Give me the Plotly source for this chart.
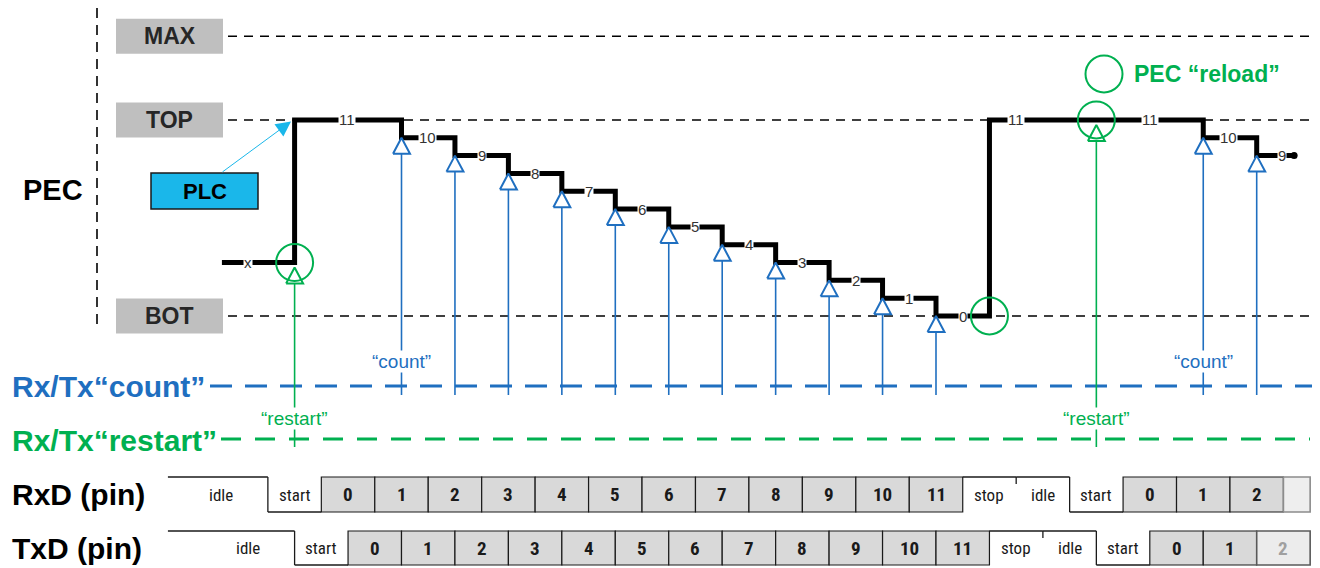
import plotly.graph_objects as go

# ---------------- data ----------------
# PEC counter staircase: time in bit periods, value in counts
pec_times = [-1.36, 0, 2, 3, 4, 5, 6, 7, 8, 9, 10, 11, 12, 13, 17, 18, 18.7]
pec_values = [3, 11, 10, 9, 8, 7, 6, 5, 4, 3, 2, 1, 0, 11, 10, 9, 9]

seg_label_text = ["x", "11", "10", "9", "8", "7", "6", "5", "4", "3", "2", "1", "0", "11", "11", "10", "9"]
seg_label_time = [-0.87, 0.98, 2.48, 3.5, 4.5, 5.5, 6.5, 7.5, 8.5, 9.5, 10.5, 11.5, 12.5, 13.5, 16.0, 17.48, 18.47]
seg_label_value = [3, 11, 10, 9, 8, 7, 6, 5, 4, 3, 2, 1, 0, 11, 11, 10, 9]

count_times = [2, 3, 4, 5, 6, 7, 8, 9, 10, 11, 12, 17, 18]
count_levels = [10, 9, 8, 7, 6, 5, 4, 3, 2, 1, 0, 10, 9]
count_note_times = [2, 17]

restart_times = [0, 15]
restart_levels = [3, 11]

event_circle_times = [0, 13, 15]
event_circle_levels = [3, 0, 11]

level_names = ["MAX", "TOP", "BOT"]
level_values = [15.7, 11, 0]

rxd_names = ["idle", "start", "0", "1", "2", "3", "4", "5", "6", "7", "8", "9", "10", "11",
             "stop", "idle", "start", "0", "1", "2", ""]
rxd_edges = [-2.37, -0.5, 0.5, 1.5, 2.5, 3.5, 4.5, 5.5, 6.5, 7.5, 8.5, 9.5, 10.5, 11.5, 12.5,
             13.5, 14.5, 15.5, 16.5, 17.5, 18.5, 19.0]
rxd_kinds = ["H", "L"] + ["B"] * 12 + ["H", "H", "L", "B", "B", "B", "P"]

txd_names = ["idle", "start", "0", "1", "2", "3", "4", "5", "6", "7", "8", "9", "10", "11",
             "stop", "idle", "start", "0", "1", "2"]
txd_edges = [-2.37, 0, 1, 2, 3, 4, 5, 6, 7, 8, 9, 10, 11, 12, 13, 14, 15, 16, 17, 18, 19]
txd_kinds = ["H", "L"] + ["B"] * 12 + ["H", "H", "L", "B", "B", "G"]

# ---------------- scales (pixel helpers for decorations) ----------------
W_PX, H_PX = 1320, 568
X0_PX, BIT_PX = 294.6, 53.45
Y0_PX, COUNT_PX = 316.0, 17.82


def tx(px):
    return (px - X0_PX) / BIT_PX


def ty(py):
    return (Y0_PX - py) / COUNT_PX


SANS = "Liberation Sans, Arial, Helvetica, sans-serif"
NARROW = "Liberation Sans Narrow, Arial Narrow, Roboto Condensed, Liberation Sans, Arial, sans-serif"
BLUE = "#1f6fc0"
GREEN = "#00b050"
CYAN = "#1ab7ea"
BOXGRAY = "#bfbfbf"
BITGRAY = "#d9d9d9"
DARK = "#262626"

fig = go.Figure()
shapes = []
ann = []


def text(x, y, s, size, color, bold=False, anchor="center", family=SANS, bg=None):
    ann.append(dict(x=x, y=y, xref="x", yref="y", text=f"<b>{s}</b>" if bold else s,
                    showarrow=False, font=dict(size=size, color=color, family=family),
                    xanchor=anchor, yanchor="middle", bgcolor=bg, borderpad=0))


def seg(x0, x1, y0, y1, color, width, dash="solid", layer="below"):
    shapes.append(dict(type="line", xref="x", yref="y", x0=x0, x1=x1, y0=y0, y1=y1,
                       line=dict(color=color, width=width, dash=dash), layer=layer))


# vertical separator
seg(tx(97), tx(97), ty(8), ty(330), "black", 1.6, "10px,7px")

# level lines and boxes
for name, v in zip(level_names, level_values):
    seg(tx(116), tx(1316), v, v, "black", 1.6, "9px,7px")
for name, v in zip(level_names, level_values):
    shapes.append(dict(type="rect", xref="x", yref="y", x0=tx(116), x1=tx(223),
                       y0=v - 17.5 / COUNT_PX, y1=v + 17.5 / COUNT_PX,
                       fillcolor=BOXGRAY, line=dict(width=0), layer="below"))
    text(tx(169.5), v, name, 23, DARK, bold=True)

# Rx/Tx event lines
seg(tx(210), tx(1312), ty(386), ty(386), BLUE, 3, "22px,13px")
seg(tx(221), tx(1310), ty(439), ty(439), GREEN, 3, "20px,14px")

# PLC box + arrow
shapes.append(dict(type="rect", xref="x", yref="y", x0=tx(151), x1=tx(258), y0=ty(209), y1=ty(173),
                   fillcolor=CYAN, line=dict(color="#1a1a1a", width=1.5), layer="below"))
text(tx(204.5), ty(191), "PLC", 22, "black", bold=True)
ann.append(dict(x=tx(291), y=ty(121.5), ax=tx(221), ay=ty(173), xref="x", yref="y",
                axref="x", ayref="y", text="", showarrow=True, arrowhead=2, arrowsize=3,
                arrowwidth=1, arrowcolor=CYAN, standoff=0))

# ---------------- PEC staircase ----------------
fig.add_trace(go.Scatter(x=pec_times, y=pec_values, mode="lines",
                         line=dict(color="black", width=5, shape="hv"),
                         hoverinfo="skip", showlegend=False))
fig.add_trace(go.Scatter(x=[pec_times[-1]], y=[pec_values[-1]], mode="markers",
                         marker=dict(size=7, color="black"), hoverinfo="skip", showlegend=False))
for s, t, v in zip(seg_label_text, seg_label_time, seg_label_value):
    text(t, v, s, 15, "#333333", bg="white")

# ---------------- arrows ----------------
TRI_W = 17 / BIT_PX
TRI_H = 16 / COUNT_PX


def arrows(times, levels, bottom_px, tip_offset_px, color):
    sx, sy, qx, qy = [], [], [], []
    for t, lv in zip(times, levels):
        tip = lv - tip_offset_px / COUNT_PX
        base = tip - TRI_H
        sx += [t, t, None]
        sy += [ty(bottom_px), base, None]
        qx += [t - TRI_W / 2, t + TRI_W / 2, t, t - TRI_W / 2, None]
        qy += [base, base, tip, base, None]
    fig.add_trace(go.Scatter(x=sx, y=sy, mode="lines", line=dict(color=color, width=1.6),
                             hoverinfo="skip", showlegend=False))
    fig.add_trace(go.Scatter(x=qx, y=qy, mode="lines", line=dict(color=color, width=2),
                             fill="toself", fillcolor="white", hoverinfo="skip", showlegend=False))


arrows(count_times, count_levels, 395, 0, BLUE)
arrows(restart_times, restart_levels, 447, 5, GREEN)

for t in count_note_times:
    text(t, ty(361), "“count”", 19, BLUE, bg="white")
for t in restart_times:
    text(t, ty(418), "“restart”", 19, GREEN, bg="white")

# event circles + legend circle
fig.add_trace(go.Scatter(x=event_circle_times + [tx(1104)], y=event_circle_levels + [ty(74)],
                         mode="markers",
                         marker=dict(symbol="circle-open", size=37, color=GREEN,
                                     line=dict(width=2, color=GREEN)),
                         hoverinfo="skip", showlegend=False))
text(tx(1133), ty(74), "PEC “reload”", 23, GREEN, bold=True, anchor="left")

# ---------------- left labels ----------------
text(tx(53), ty(190), "PEC", 29, "black", bold=True)
text(tx(11), ty(386), "Rx/Tx“count”", 30, BLUE, bold=True, anchor="left")
text(tx(11), ty(440), "Rx/Tx“restart”", 30, GREEN, bold=True, anchor="left")
text(tx(11), ty(494), "RxD (pin)", 30, "black", bold=True, anchor="left")
text(tx(11), ty(548), "TxD (pin)", 30, "black", bold=True, anchor="left")


# ---------------- pin rows ----------------
def draw_row(names, edges, kinds, top_px, bot_px):
    yt, yb = ty(top_px), ty(bot_px)
    xs, ys = [], []
    for i, (name, kind) in enumerate(zip(names, kinds)):
        a, b = edges[i], edges[i + 1]
        if kind == "H":
            xs += [a, b, None]
            ys += [yt, yt, None]
        elif kind == "L":
            xs += [a, b, None]
            ys += [yb, yb, None]
        else:
            fill = {"B": BITGRAY, "P": "#eeeeee", "G": "#ececec"}[kind]
            lc = {"B": "#1a1a1a", "P": "#8c8c8c", "G": "#595959"}[kind]
            shapes.append(dict(type="rect", xref="x", yref="y", x0=a, x1=b, y0=yb, y1=yt,
                               fillcolor=fill, line=dict(color=lc, width=1.2 if kind == "B" else 1.6),
                               layer="below"))
        if i > 0 and kinds[i - 1] == "H" and kind == "L":
            xs += [a, a, None]
            ys += [yt, yb, None]
        if i > 0 and kinds[i - 1] == "H" and kind == "H":
            xs += [a, a, None]
            ys += [yt, yt - 7 / COUNT_PX, None]
        if name:
            cx = b - 0.87 if i == 0 else (a + b) / 2
            if kind in "HL":
                text(cx, (yt + yb) / 2, name, 17, "#1a1a1a", family=NARROW)
            else:
                text(cx, (yt + yb) / 2, name, 19, "#a0a0a0" if kind == "G" else "#1a1a1a",
                     bold=True, family=NARROW)
    fig.add_trace(go.Scatter(x=xs, y=ys, mode="lines", line=dict(color="#1a1a1a", width=1.3),
                             hoverinfo="skip", showlegend=False))


draw_row(rxd_names, rxd_edges, rxd_kinds, 477, 512)
draw_row(txd_names, txd_edges, txd_kinds, 531, 565)

fig.update_layout(
    width=W_PX, height=H_PX,
    margin=dict(l=0, r=0, t=0, b=0),
    paper_bgcolor="white", plot_bgcolor="white",
    xaxis=dict(range=[tx(0), tx(W_PX)], visible=False, fixedrange=True),
    yaxis=dict(range=[ty(H_PX), ty(0)], visible=False, fixedrange=True),
    shapes=shapes, annotations=ann, showlegend=False,
)

fig.write_html("out.html", config={"displayModeBar": False},
               post_script="document.body.style.margin='0';")
